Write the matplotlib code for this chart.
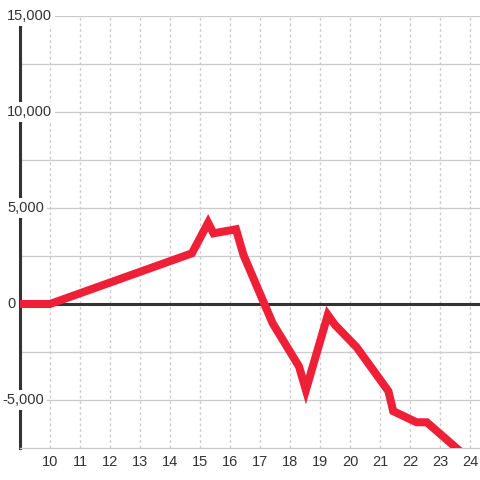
import matplotlib.pyplot as plt
import matplotlib.transforms as mtransforms

plt.rcParams['font.family'] = ['Liberation Sans', 'DejaVu Sans']

# data
hours = [9, 10, 14.73, 15.27, 15.45, 16.2, 16.45, 17.42, 18.3, 18.53,
         19.26, 19.5, 20.22, 21.28, 21.44, 22.22, 22.56, 23.56]
values = [0, 0, 2640, 4230, 3680, 3890, 2550, -1000, -3250, -4480,
          -570, -1090, -2250, -4540, -5580, -6160, -6160, -7520]

x_ticks = list(range(10, 25))
y_major = [-5000, 0, 5000, 10000, 15000]
y_minor = [-2500, 2500, 7500, 12500]

fig = plt.figure(figsize=(4.8, 4.8), dpi=100)
ax = fig.add_axes([20 / 480, 32 / 480, 460 / 480, 432 / 480])
ax.set_xlim(9, 24 + 1 / 3)
ax.set_ylim(-7500, 15000)

grid_col = '#cccccc'
text_col = '#333333'

for y in y_major + y_minor:
    if y != 0:
        ax.axhline(y, color=grid_col, lw=1, zorder=1)
for x in x_ticks:
    ax.axvline(x, color=grid_col, lw=1, linestyle=(0, (2, 2)), zorder=1)

ax.axhline(0, color=text_col, lw=2.2, zorder=2)

ax.plot(hours, values, color='#ee2037', lw=5.8, solid_joinstyle='miter',
        solid_capstyle='projecting', zorder=4)

for s in ['top', 'right']:
    ax.spines[s].set_visible(False)
ax.spines['left'].set_color(text_col)
ax.spines['left'].set_linewidth(2.2)
ax.spines['bottom'].set_color(grid_col)
ax.spines['bottom'].set_linewidth(1)

ax.set_xticks(x_ticks)
ax.set_xticklabels([str(v) for v in x_ticks])
ax.tick_params(axis='x', length=0, pad=5, labelsize=10.5, labelcolor=text_col)
ax.set_yticks([])

trans = mtransforms.blended_transform_factory(fig.transFigure, ax.transData)
for y in y_major:
    lbl = f'{y:,}'
    xpos = (2 if y < 0 else 7) / 480
    ax.text(xpos, y, lbl, transform=trans, ha='left', va='center',
            fontsize=10.5, color=text_col, zorder=6,
            bbox=dict(boxstyle='square,pad=0.2', fc='white', ec='none'))

fig.savefig('out.png', dpi=100, facecolor='white')
